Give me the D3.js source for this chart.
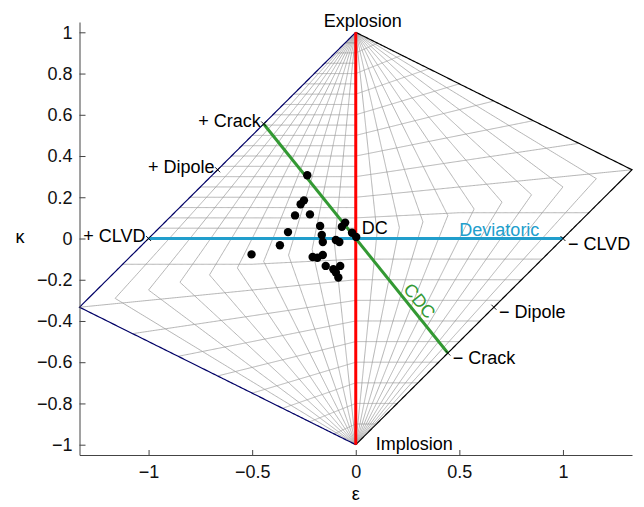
<!DOCTYPE html>
<html>
<head>
<meta charset="utf-8">
<script src="https://cdn.jsdelivr.net/npm/d3@7"></script>
<style>
  body { margin: 0; background: #fff; }
  text { font-family: "Liberation Sans", Arial, sans-serif; font-size: 18px; }
</style>
</head>
<body>
<svg id="chart" width="644" height="507"></svg>
<script>
// events, in Hudson plot coordinates (epsilon, kappa)
const eventEps = [-0.234, -0.250, -0.266, -0.293, -0.221, -0.327, -0.366, -0.503,
                  -0.172, -0.164, -0.159, -0.051, -0.067, -0.018, 0.002, -0.096,
                  -0.079, -0.208, -0.185, -0.159, -0.145, -0.108, -0.075, -0.096, -0.084];
const eventKappa = [0.307, 0.185, 0.166, 0.112, 0.117, 0.031, -0.033, -0.077,
                    0.061, 0.017, -0.017, 0.077, 0.057, 0.028, 0.007, -0.007,
                    -0.017, -0.090, -0.093, -0.080, -0.133, -0.149, -0.133, -0.165, -0.189];

// reference source types on the diamond edge
const refNames = ["+ CLVD", "\u2212 CLVD", "+ Dipole", "\u2212 Dipole", "+ Crack", "\u2212 Crack"];
const refEps = [-1, 1, -2 / 3, 2 / 3, -4 / 9, 4 / 9];
const refKappa = [0, 0, 1 / 3, -1 / 3, 5 / 9, -5 / 9];

// grid of T and k values
const gridT = [-0.9, -0.8, -0.7, -0.6, -0.5, -0.4, -0.3, -0.2, -0.1,
               0.1, 0.2, 0.3, 0.4, 0.5, 0.6, 0.7, 0.8, 0.9];
const gridK = [-0.9, -0.8, -0.7, -0.6, -0.5, -0.4, -0.3, -0.2, -0.1,
               0.1, 0.2, 0.3, 0.4, 0.5, 0.6, 0.7, 0.8, 0.9];
const gridKHalf = [0.05, 0.15, 0.25, 0.35, 0.45, 0.55, 0.65, 0.75, 0.85, 0.95];

const xTicks = [-1, -0.5, 0, 0.5, 1];
const yTicks = [-1, -0.8, -0.6, -0.4, -0.2, 0, 0.2, 0.4, 0.6, 0.8, 1];

const svg = d3.select("#chart");

const x = d3.scaleLinear().domain([-4 / 3, 4 / 3]).range([79.5, 632]);
const y = d3.scaleLinear().domain([-1.05, 1.05]).range([455, 22]);

// Hudson et al. (1989) mapping of (T, k) to plot coordinates
function hudson(T, k) {
    const tau = T * (1 - Math.abs(k));
    if (tau * k <= 0) return [tau, k];
    const s = k > 0 ? 1 : -1;
    const t = tau * s, kk = k * s;
    let u, v;
    if (t <= 4 * kk) {
        u = t / (1 - t / 2); v = kk / (1 - t / 2);
    } else {
        u = t / (1 - 2 * kk); v = kk / (1 - 2 * kk);
    }
    return [u * s, v * s];
}

const line = d3.line().x(d => x(d[0])).y(d => y(d[1]));
const steps = d3.range(0, 401).map(i => -1 + i * 0.005);

function constT(T) {
    const ks = steps.concat([0, T > 0 ? T / (4 + T) : T / (4 - T)]).sort((a, b) => a - b);
    return ks.map(k => hudson(T, k));
}

function constK(k, tMin = -1, tMax = 1) {
    const extra = [0, k > 0 ? 4 * k / (1 - k) : 4 * k / (1 + k)];
    const ts = steps.concat(extra).filter(t => t >= tMin && t <= tMax).sort((a, b) => a - b);
    return ts.map(t => hudson(t, k));
}

const grid = svg.append("g")
    .attr("fill", "none")
    .attr("stroke", "#9c9c9c")
    .attr("stroke-width", 0.75);

grid.selectAll(".gt")
    .data(gridT)
    .join("path")
    .attr("class", "gt")
    .attr("d", d => line(constT(d)));

grid.selectAll(".gk")
    .data(gridK)
    .join("path")
    .attr("class", "gk")
    .attr("d", d => line(constK(d)));

grid.selectAll(".gh")
    .data(gridKHalf)
    .join("path")
    .attr("class", "gh")
    .attr("d", d => line(constK(d, -1, 0)));

// diamond outline
svg.append("path")
    .attr("d", line(constT(-1)))
    .attr("fill", "none")
    .attr("stroke", "#000066")
    .attr("stroke-width", 1.2);
svg.append("path")
    .attr("d", line(constT(1)))
    .attr("fill", "none")
    .attr("stroke", "#000")
    .attr("stroke-width", 1.2);

// axes
const yAxis = svg.append("g")
    .attr("transform", `translate(${x.range()[0]},0)`)
    .call(d3.axisLeft(y).tickValues(yTicks).tickSize(-6).tickSizeOuter(0).tickPadding(7)
        .tickFormat(d3.format("~g")));
const xAxis = svg.append("g")
    .attr("transform", `translate(0,${y.range()[0]})`)
    .call(d3.axisBottom(x).tickValues(xTicks).tickSize(-5).tickSizeOuter(0).tickPadding(10)
        .tickFormat(d3.format("~g")));
[xAxis, yAxis].forEach(a => {
    a.selectAll("text").style("font-size", "18px").attr("fill", "#111")
        .style("font-family", '"Liberation Sans", Arial, sans-serif');
    a.select(".domain").attr("stroke", "#444");
    a.selectAll(".tick line").attr("stroke", "#444");
});

svg.append("text")
    .attr("x", x(0)).attr("y", 500)
    .attr("text-anchor", "middle")
    .text("\u03b5");
svg.append("text")
    .attr("x", 20).attr("y", 243)
    .attr("text-anchor", "middle")
    .text("\u03ba");

// isotropic, deviatoric and CDC lines
svg.append("line")
    .attr("x1", x(0)).attr("y1", y(-1))
    .attr("x2", x(0)).attr("y2", y(1))
    .attr("stroke", "#ff0000").attr("stroke-width", 3);
svg.append("line")
    .attr("x1", x(refEps[0])).attr("y1", y(refKappa[0]))
    .attr("x2", x(refEps[1])).attr("y2", y(refKappa[1]))
    .attr("stroke", "#219ecc").attr("stroke-width", 3);
svg.append("line")
    .attr("x1", x(refEps[4])).attr("y1", y(refKappa[4]))
    .attr("x2", x(refEps[5])).attr("y2", y(refKappa[5]))
    .attr("stroke", "#339933").attr("stroke-width", 3);

// markers for reference source types
const marks = svg.selectAll(".ref")
    .data(refNames.map((n, i) => ({ name: n, e: refEps[i], k: refKappa[i] })))
    .join("g")
    .attr("class", "ref")
    .attr("transform", d => `translate(${x(d.e)},${y(d.k)})`);
marks.append("path")
    .attr("d", "M-2.5,-2.5L2.5,2.5M-2.5,2.5L2.5,-2.5")
    .attr("stroke", "#000").attr("stroke-width", 0.9);
marks.append("text")
    .attr("text-anchor", d => d.name[0] === "+" ? "end" : "start")
    .attr("x", d => d.name[0] === "+" ? -3 : 5)
    .attr("y", d => d.name[0] === "+" ? 3 : 11)
    .text(d => d.name);

// events
svg.append("g")
    .selectAll("circle")
    .data(eventEps.map((e, i) => [e, eventKappa[i]]))
    .join("circle")
    .attr("cx", d => x(d[0]))
    .attr("cy", d => y(d[1]))
    .attr("r", 4.2)
    .attr("fill", "#000");

// labels
svg.append("text")
    .attr("x", x(0) + 7).attr("y", y(1) - 5)
    .attr("text-anchor", "middle")
    .text("Explosion");
svg.append("text")
    .attr("x", x(0) + 20).attr("y", y(-1) + 5)
    .text("Implosion");
svg.append("text")
    .attr("x", x(0) + 6).attr("y", y(0) - 5)
    .text("DC");
svg.append("text")
    .attr("x", x(0.5)).attr("y", y(0) - 3)
    .attr("fill", "#219ecc")
    .text("Deviatoric");

const cdcE = 0.268, cdcK = -1.25 * cdcE;
const ang = Math.atan2(y(refKappa[5]) - y(refKappa[4]), x(refEps[5]) - x(refEps[4])) * 180 / Math.PI;
svg.append("text")
    .attr("transform", `translate(${x(cdcE)},${y(cdcK)}) rotate(${ang})`)
    .attr("text-anchor", "middle")
    .attr("dy", "-0.25em")
    .attr("fill", "#339933")
    .text("CDC");
</script>
</body>
</html>
